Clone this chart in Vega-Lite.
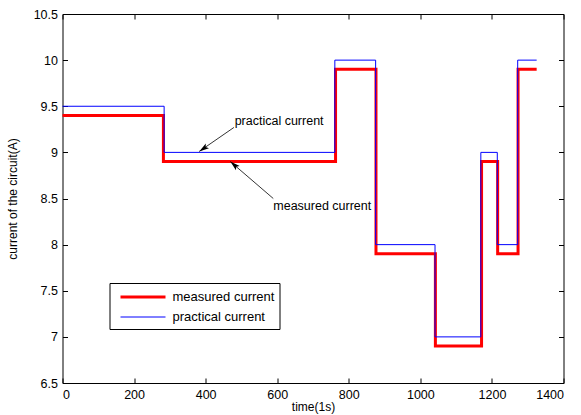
{
  "$schema": "https://vega.github.io/schema/vega-lite/v6.json",
  "width": 501,
  "height": 369,
  "autosize": "none",
  "padding": {"left": 62.5, "top": 14, "right": 17.5, "bottom": 32},
  "background": "white",
  "config": {
    "view": {"stroke": "black", "strokeWidth": 1},
    "font": "Liberation Sans",
    "axis": {
      "grid": false,
      "domain": false,
      "tickColor": "black",
      "tickSize": -5,
      "labelColor": "black",
      "labelFontSize": 12.5,
      "labelFont": "Liberation Sans",
      "titleFont": "Liberation Sans",
      "titleFontSize": 12,
      "titleFontWeight": "normal",
      "titleColor": "black"
    }
  },
  "datasets": {
    "series": [
      {"time": 0, "current": 9.4, "series": "measured current"},
      {"time": 282, "current": 8.9, "series": "measured current"},
      {"time": 763, "current": 9.9, "series": "measured current"},
      {"time": 876, "current": 7.9, "series": "measured current"},
      {"time": 1042, "current": 6.9, "series": "measured current"},
      {"time": 1171, "current": 8.9, "series": "measured current"},
      {"time": 1216, "current": 7.9, "series": "measured current"},
      {"time": 1273, "current": 9.9, "series": "measured current"},
      {"time": 1325, "current": 9.9, "series": "measured current"},
      {"time": 0, "current": 9.5, "series": "practical current"},
      {"time": 284, "current": 9.0, "series": "practical current"},
      {"time": 761, "current": 10.0, "series": "practical current"},
      {"time": 875, "current": 8.0, "series": "practical current"},
      {"time": 1041, "current": 7.0, "series": "practical current"},
      {"time": 1169, "current": 9.0, "series": "practical current"},
      {"time": 1215, "current": 8.0, "series": "practical current"},
      {"time": 1272, "current": 10.0, "series": "practical current"},
      {"time": 1325, "current": 10.0, "series": "practical current"}
    ],
    "arrows": [
      {"x": 479, "y": 9.27, "x2": 382, "y2": 9.01, "angle": 236},
      {"x": 589, "y": 8.5, "x2": 469, "y2": 8.9, "angle": 311}
    ],
    "labels": [
      {"x": 481, "y": 9.34, "text": "practical current"},
      {"x": 589, "y": 8.42, "text": "measured current"}
    ]
  },
  "layer": [
    {
      "data": {"name": "series"},
      "mark": {"type": "line", "interpolate": "step-after"},
      "encoding": {
        "x": {
          "field": "time", "type": "quantitative",
          "scale": {"domain": [0, 1400], "nice": false},
          "axis": {"values": [0, 200, 400, 600, 800, 1000, 1200, 1400], "format": "d", "title": "time(1s)", "labelPadding": 10, "titlePadding": 1, "orient": "bottom"}
        },
        "y": {
          "field": "current", "type": "quantitative",
          "scale": {"domain": [6.5, 10.5], "nice": false, "zero": false},
          "axis": {"values": [6.5, 7, 7.5, 8, 8.5, 9, 9.5, 10, 10.5], "format": ".1~f", "title": "current of the circuit(A)", "labelPadding": 10, "titlePadding": 14, "orient": "left"}
        },
        "color": {
          "field": "series", "type": "nominal",
          "scale": {"domain": ["measured current", "practical current"], "range": ["#ff0000", "#0000ff"]},
          "legend": {
            "title": null,
            "orient": "none",
            "legendX": 47,
            "legendY": 269,
            "fillColor": "white",
            "strokeColor": "black",
            "padding": 5,
            "symbolType": "M-0.4,0H5.6",
            "symbolSize": 225,
            "labelFontSize": 13,
            "labelColor": "black",
            "labelFont": "Liberation Sans",
            "rowPadding": 5,
            "labelOffset": 40
          }
        },
        "strokeWidth": {
          "field": "series", "type": "nominal",
          "scale": {"domain": ["measured current", "practical current"], "range": [3, 1]},
          "legend": null
        }
      }
    },
    {
      "data": {"name": "series"},
      "mark": {"type": "point", "opacity": 0},
      "encoding": {
        "x": {"field": "time", "type": "quantitative", "axis": {"orient": "top", "values": [0, 200, 400, 600, 800, 1000, 1200, 1400], "labels": false, "title": null}},
        "y": {"field": "current", "type": "quantitative", "axis": {"orient": "right", "values": [6.5, 7, 7.5, 8, 8.5, 9, 9.5, 10, 10.5], "labels": false, "title": null}}
      }
    },
    {
      "data": {"name": "arrows"},
      "mark": {"type": "rule", "color": "black", "strokeWidth": 0.8},
      "encoding": {
        "x": {"field": "x", "type": "quantitative", "axis": null},
        "y": {"field": "y", "type": "quantitative", "axis": null},
        "x2": {"field": "x2"},
        "y2": {"field": "y2"}
      }
    },
    {
      "data": {"name": "arrows"},
      "mark": {"type": "point", "shape": "M0,0L-0.4,1.4L0,1.1L0.4,1.4Z", "filled": true, "color": "black", "opacity": 1, "size": 200},
      "encoding": {
        "x": {"field": "x2", "type": "quantitative", "axis": null},
        "y": {"field": "y2", "type": "quantitative", "axis": null},
        "angle": {"field": "angle", "type": "quantitative", "scale": null}
      }
    },
    {
      "data": {"name": "labels"},
      "mark": {"type": "text", "align": "left", "baseline": "middle", "fontSize": 12.5, "font": "Liberation Sans", "color": "black"},
      "encoding": {
        "x": {"field": "x", "type": "quantitative", "axis": null},
        "y": {"field": "y", "type": "quantitative", "axis": null},
        "text": {"field": "text"}
      }
    }
  ],
  "resolve": {"axis": {"x": "independent", "y": "independent"}}
}
